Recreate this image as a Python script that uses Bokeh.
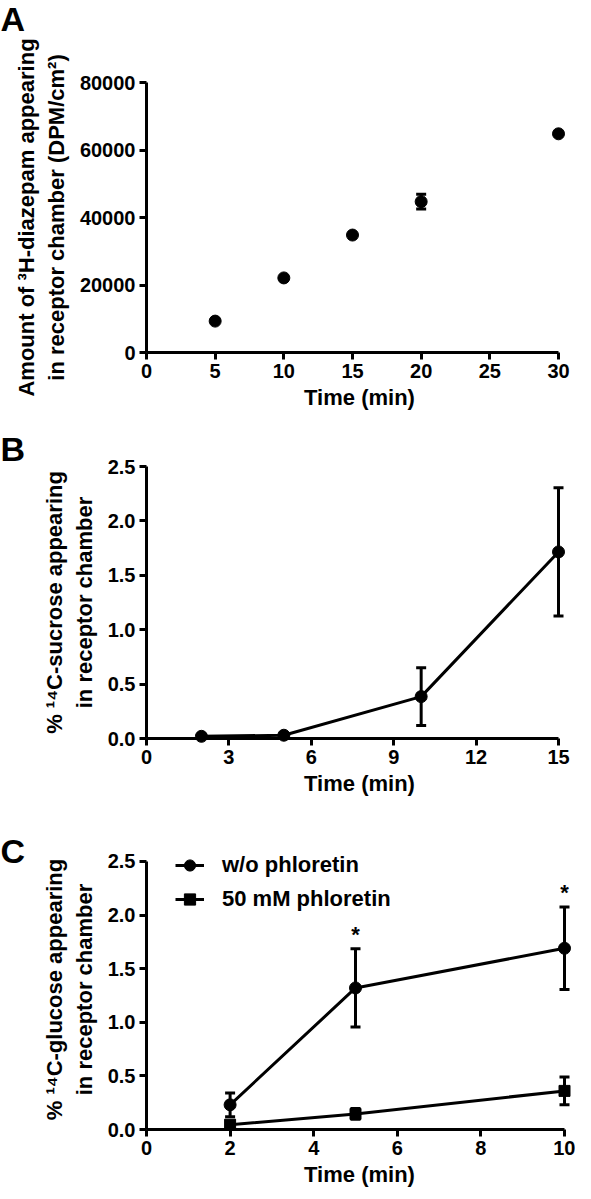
from bokeh.plotting import figure
from bokeh.layouts import column
from bokeh.models import (Whisker, ColumnDataSource, Legend, LegendItem, Title,
                          FixedTicker, Range1d, TeeHead, PrintfTickFormatter)
from bokeh.embed import file_html
from bokeh.resources import INLINE

FONT = "Liberation Sans"

# ---------------- data ----------------
# Panel A: 3H-diazepam
a_time = [5, 10, 15, 20, 30]
a_dpm = [9300, 22100, 34800, 44700, 64800]
a_err = [0, 0, 0, 2200, 0]
a_xticks = [0, 5, 10, 15, 20, 25, 30]
a_yticks = [0, 20000, 40000, 60000, 80000]

# Panel B: 14C-sucrose
b_time = [2, 5, 10, 15]
b_pct = [0.02, 0.03, 0.385, 1.715]
b_err = [0, 0, 0.265, 0.59]
b_xticks = [0, 3, 6, 9, 12, 15]
b_yticks = [0, 0.5, 1.0, 1.5, 2.0, 2.5]

# Panel C: 14C-glucose
c_time = [2, 5, 10]
c_without = [0.23, 1.32, 1.69]
c_without_err = [0.11, 0.365, 0.385]
c_with = [0.045, 0.145, 0.36]
c_with_err = [0.02, 0.05, 0.13]
c_sig = ["", "*", "*"]
c_xticks = [0, 2, 4, 6, 8, 10]
c_yticks = [0, 0.5, 1.0, 1.5, 2.0, 2.5]

W = 575
LEFT = 146
RIGHT = 3
FRAME_W = W - LEFT - RIGHT


def add_letter(p, letter, standoff, spacer=None):
    if spacer is not None:
        # invisible spacer title placed between the frame and the panel letter
        p.add_layout(Title(text=" ", text_font_size="10px", standoff=spacer), "above")
    p.add_layout(Title(text=letter, text_font=FONT, text_font_style="bold",
                       text_font_size="34px", text_color="black", align="left",
                       offset=-LEFT, standoff=standoff), "above")


def make_fig(height, top, bottom, axis_w, axis_h, pad_top,
             xmax, ymax, xticks, yticks, ylabel, yfmt):
    # the frame is a little larger than the axes so that end markers are not clipped
    xr = Range1d(0, xmax * FRAME_W / axis_w)
    yr = Range1d(0, ymax * (axis_h + pad_top) / axis_h)
    p = figure(width=W, height=height, x_range=xr, y_range=yr,
               output_backend="svg", toolbar_location=None,
               min_border_left=LEFT, min_border_right=RIGHT,
               min_border_top=top - pad_top, min_border_bottom=bottom)
    p.grid.visible = False
    p.outline_line_color = None
    p.background_fill_color = "white"
    p.border_fill_color = "white"
    for ax in (p.xaxis[0], p.yaxis[0]):
        ax.axis_line_width = 3
        ax.axis_line_color = "black"
        ax.major_tick_line_width = 3
        ax.major_tick_line_color = "black"
        ax.major_tick_out = 7
        ax.major_tick_in = 0
        ax.minor_tick_line_color = None
        ax.major_label_text_font = FONT
        ax.major_label_text_font_style = "bold"
        ax.major_label_text_font_size = "20px"
        ax.major_label_text_color = "black"
        ax.axis_label_text_font = FONT
        ax.axis_label_text_font_style = "bold"
        ax.axis_label_text_font_size = "22px"
        ax.axis_label_text_color = "black"
    p.xaxis[0].bounds = (0, xmax)
    p.yaxis[0].bounds = (0, ymax)
    p.xaxis[0].ticker = FixedTicker(ticks=xticks)
    p.yaxis[0].ticker = FixedTicker(ticks=yticks)
    p.yaxis[0].formatter = PrintfTickFormatter(format=yfmt)
    p.xaxis[0].major_label_standoff = 4
    p.yaxis[0].major_label_standoff = 4
    p.xaxis[0].axis_label = "Time (min)"
    p.xaxis[0].axis_label_standoff = 4
    p.yaxis[0].axis_label = ylabel
    p.yaxis[0].axis_label_standoff = 8
    return p


def errbars(p, xs, ys, es, size=10):
    xx = [x for x, e in zip(xs, es) if e > 0]
    up = [y + e for y, e in zip(ys, es) if e > 0]
    lo = [y - e for y, e in zip(ys, es) if e > 0]
    src = ColumnDataSource(dict(x=xx, upper=up, lower=lo))
    w = Whisker(base="x", upper="upper", lower="lower", source=src,
                line_width=3, line_color="black",
                upper_head=TeeHead(size=size, line_width=3, line_color="black"),
                lower_head=TeeHead(size=size, line_width=3, line_color="black"))
    p.add_layout(w)


# ---------------- Panel A ----------------
pa = make_fig(412, 82, 58, 412, 272, 0, 30, 80000, a_xticks, a_yticks,
              "Amount of \u00b3H-diazepam appearing\nin receptor chamber (DPM/cm\u00b2)", "%d")
add_letter(pa, "A", -10, spacer=37)
errbars(pa, a_time, a_dpm, a_err)
pa.scatter(a_time, a_dpm, size=12, color="black", level="overlay")

# ---------------- Panel B ----------------
pb = make_fig(386, 54, 60, 412, 272, 0, 15, 2.5, b_xticks, b_yticks,
              "% \u00b9\u2074C-sucrose appearing\nin receptor chamber", "%.1f")
add_letter(pb, "B", -2)
errbars(pb, b_time, b_pct, b_err)
pb.line(b_time, b_pct, line_width=3, color="black", level="overlay")
pb.scatter(b_time, b_pct, size=12, color="black", level="overlay")

# ---------------- Panel C ----------------
pc = make_fig(391, 63, 58, 418, 270, 12, 10, 2.5, c_xticks, c_yticks,
              "% \u00b9\u2074C-glucose appearing\nin receptor chamber", "%.1f")
add_letter(pc, "C", -41)
errbars(pc, c_time, c_without, c_without_err)
errbars(pc, c_time, c_with, c_with_err)
l1 = pc.line(c_time, c_without, line_width=3, color="black", level="overlay")
s1 = pc.scatter(c_time, c_without, size=12, color="black", level="overlay")
l2 = pc.line(c_time, c_with, line_width=3, color="black", level="overlay")
s2 = pc.scatter(c_time, c_with, size=11, marker="square", color="black", level="overlay")
sig_src = ColumnDataSource(dict(x=c_time, y=[m + e for m, e in zip(c_without, c_without_err)],
                                t=c_sig))
pc.text(x="x", y="y", text="t", source=sig_src, text_font_size="22px",
        text_font_style="bold", text_align="center", text_baseline="alphabetic",
        y_offset=-14, text_color="black", level="overlay")
legend = Legend(items=[LegendItem(label="w/o phloretin", renderers=[l1, s1]),
                       LegendItem(label="50 mM phloretin", renderers=[l2, s2])],
                location=(29, 216), padding=0, margin=0, spacing=6,
                glyph_width=29, glyph_height=28, label_height=28,
                label_standoff=18, border_line_color=None, background_fill_alpha=0,
                label_text_font=FONT, label_text_font_style="bold",
                label_text_font_size="22px", label_text_color="black")
pc.add_layout(legend)

layout = column(pa, pb, pc, spacing=0)
open("out.html", "w").write(file_html(layout, INLINE))
